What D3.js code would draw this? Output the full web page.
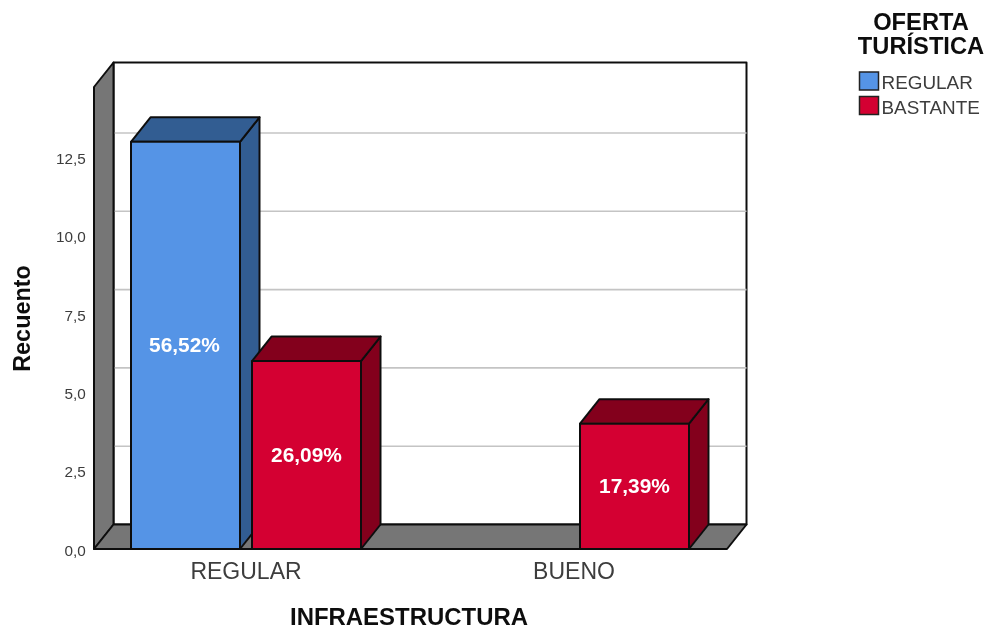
<!DOCTYPE html>
<html><head><meta charset="utf-8">
<script src="https://cdn.jsdelivr.net/npm/d3@7"></script>
<style>html,body{margin:0;padding:0;background:#fff}svg{display:block}text{font-family:"Liberation Sans",Arial,sans-serif}</style>
</head><body><svg id="c" width="987" height="630"></svg>
<script>
const categories=["REGULAR","BUENO"];
const seriesNames=["REGULAR","BASTANTE"];
const regularValues=[13,null];
const bastanteValues=[6,4];
const regularLabels=["56,52%",null];
const bastanteLabels=["26,09%","17,39%"];
const tickValues=[0,2.5,5,7.5,10,12.5];
const tickLabels=["0,0","2,5","5,0","7,5","10,0","12,5"];
const legendTitle=["OFERTA","TURÍSTICA"];
const xTitle="INFRAESTRUCTURA", yTitle="Recuento";

const dx=19.5,dy=24.5;
const plotLeft=94,plotRight=727,plotBottom=549;
const y=d3.scaleLinear().domain([0,14.75]).range([plotBottom,plotBottom-462]);
const x0=d3.scaleBand().domain(categories).range([82,738]);
const x1=d3.scaleBand().domain(seriesNames).range([0,230]).paddingInner(12/121);
const inset=(x0.bandwidth()-230)/2;
const colors={REGULAR:{f:"#5594e6",d:"#335d92"},BASTANTE:{f:"#d40030",d:"#83001f"}};
const svg=d3.select("#c");
svg.append("defs").append("filter").attr("id","soft").attr("x","-5%").attr("y","-5%").attr("width","110%").attr("height","110%")
  .append("feGaussianBlur").attr("stdDeviation",0.45);
const plotTop=y.range()[1];
const ink="#111";
const g=svg.append("g").attr("filter","url(#soft)");
g.append("rect").attr("width",987).attr("height",630).attr("fill","#fff");
const poly=(pts,fill,sw=2)=>g.append("polygon").attr("points",pts.map(p=>p.join(",")).join(" ")).attr("fill",fill).attr("stroke",ink).attr("stroke-width",sw).attr("stroke-linejoin","round");

// back wall, side wall, floor
poly([[plotLeft+dx,plotTop-dy],[plotRight+dx,plotTop-dy],[plotRight+dx,plotBottom-dy],[plotLeft+dx,plotBottom-dy]],"#fff");
tickValues.slice(1).forEach(v=>{
  g.append("line").attr("x1",plotLeft+dx).attr("x2",plotRight+dx).attr("y1",y(v)-dy).attr("y2",y(v)-dy).attr("stroke","#c4c4c4").attr("stroke-width",1.6);
});
poly([[plotLeft,plotTop],[plotLeft+dx,plotTop-dy],[plotLeft+dx,plotBottom-dy],[plotLeft,plotBottom]],"#767676");
poly([[plotLeft,plotBottom],[plotLeft+dx,plotBottom-dy],[plotRight+dx,plotBottom-dy],[plotRight,plotBottom]],"#767676");

// bars
const rows=[];
categories.forEach((c,i)=>{
  rows.push({c,s:"REGULAR",v:regularValues[i],l:regularLabels[i]});
  rows.push({c,s:"BASTANTE",v:bastanteValues[i],l:bastanteLabels[i]});
});
rows.filter(r=>r.v!=null).forEach(r=>{
  const xa=x0(r.c)+inset+x1(r.s), xb=xa+x1.bandwidth(), yt=y(r.v), col=colors[r.s];
  poly([[xb,yt],[xb+dx,yt-dy],[xb+dx,plotBottom-dy],[xb,plotBottom]],col.d);
  poly([[xa,yt],[xa+dx,yt-dy],[xb+dx,yt-dy],[xb,yt]],col.d);
  poly([[xa,yt],[xb,yt],[xb,plotBottom],[xa,plotBottom]],col.f);
  g.append("text").attr("x",(xa+xb)/2+(r.s==="REGULAR"?-1:0)).attr("y",(yt+plotBottom)/2+7)
    .attr("text-anchor","middle").attr("fill","#fff").attr("font-weight","bold").attr("font-size",20.9).text(r.l);
});

// front base line
g.append("line").attr("x1",plotLeft).attr("x2",plotRight).attr("y1",plotBottom).attr("y2",plotBottom).attr("stroke",ink).attr("stroke-width",2);

// y tick labels
tickValues.forEach((v,i)=>{
  g.append("text").attr("x",85.7).attr("y",y(v)+6.5).attr("text-anchor","end").attr("font-size",15.3).attr("fill","#3c3c3c").text(tickLabels[i]);
});
// x labels
categories.forEach(c=>{
  g.append("text").attr("x",x0(c)+x0.bandwidth()/2).attr("y",579).attr("text-anchor","middle").attr("font-size",23).attr("fill","#3c3c3c").text(c);
});
// titles
g.append("text").attr("x",409).attr("y",625).attr("text-anchor","middle").attr("font-weight","bold").attr("font-size",23).attr("textLength",238).attr("lengthAdjust","spacingAndGlyphs").attr("fill","#111").text(xTitle);
g.append("text").attr("transform","translate(30,318.5) rotate(-90)").attr("text-anchor","middle").attr("font-weight","bold").attr("font-size",23.4).attr("fill","#111").text(yTitle);
// legend
legendTitle.forEach((t,i)=>{
  g.append("text").attr("x",921).attr("y",30+i*23.5).attr("text-anchor","middle").attr("font-weight","bold").attr("font-size",23.7).attr("fill","#111").text(t);
});
seriesNames.forEach((s,i)=>{
  const ly=72+i*24.5;
  g.append("rect").attr("x",859.5).attr("y",ly).attr("width",19).attr("height",18).attr("fill",colors[s].f).attr("stroke","#222").attr("stroke-width",1.5);
  g.append("text").attr("x",881.5).attr("y",ly+17).attr("font-size",18.9).attr("fill","#3c3c3c").text(s);
});
</script></body></html>
